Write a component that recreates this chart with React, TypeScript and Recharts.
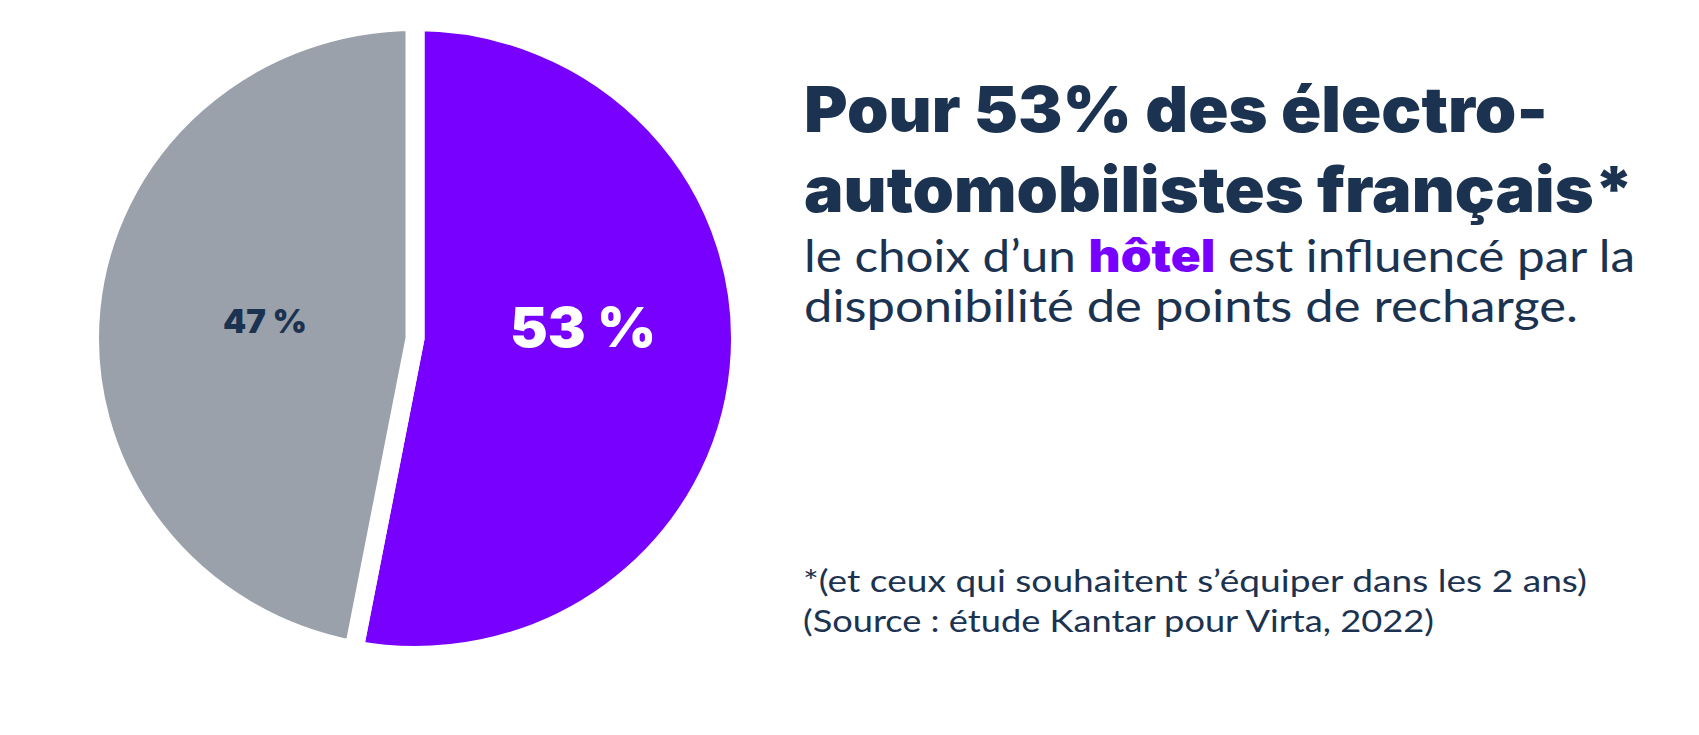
import React from 'react';
import { PieChart, Pie, Cell } from 'recharts';

// ---------- data ----------
const categories = ['Influencés', 'Non influencés'];
const values = [53, 47];
const sliceLabels = ['53 %', '47 %'];

const titleLines = ['Pour 53% des électro-', 'automobilistes français*'];
const subtitleLine1 = ['le choix d’un ', 'hôtel', ' est influencé par la'];
const subtitleLine2 = 'disponibilité de points de recharge.';
const footnotes = [
  '*(et ceux qui souhaitent s’équiper dans les 2 ans)',
  '(Source\u202F: étude Kantar pour Virta, 2022)',
];

// ---------- styles ----------
const NAVY = '#1b3350';
const PURPLE = '#7700ff';
const GRAY = '#9aa1ab';
const colors = [PURPLE, GRAY];
const labelColors = ['#ffffff', NAVY];
const labelStyles = [
  { r: 0.533, dAngle: 9.4, size: 56, len: 146 },
  { r: 0.478, dAngle: -1.4, size: 33, len: 84 },
];
const STROKE = 19;
const SCALE_Y = 0.973;
const HEAVY = "Inter, Lato, 'Open Sans', sans-serif";
const REGULAR = "Lato, 'Open Sans', sans-serif";

const data = categories.map((name, i) => ({ name, value: values[i] }));

const RAD = Math.PI / 180;
const renderLabel = (props: any) => {
  const { cx, cy, midAngle, outerRadius, index } = props;
  const st = labelStyles[index];
  const R = outerRadius - STROKE / 2;
  const a = (midAngle + st.dAngle) * RAD;
  const x = cx + R * st.r * Math.cos(a);
  const y = cy - R * st.r * Math.sin(a);
  return (
    <text
      x={x}
      y={y}
      dy={st.size * 0.36}
      textAnchor="middle"
      fill={labelColors[index]}
      fontFamily={HEAVY}
      fontWeight={900}
      fontSize={st.size}
      textLength={st.len}
      lengthAdjust="spacingAndGlyphs"
    >
      {sliceLabels[index]}
    </text>
  );
};

export default function App() {
  return (
    <div
      style={{
        position: 'absolute',
        left: 0,
        top: 0,
        width: 1699,
        height: 735,
        background: '#ffffff',
        overflow: 'hidden',
      }}
    >
      <div
        style={{
          position: 'absolute',
          left: 0,
          top: 0,
          transform: `scaleY(${SCALE_Y})`,
          transformOrigin: '0 0',
        }}
      >
        <PieChart width={850} height={755} margin={{ top: 0, right: 0, bottom: 0, left: 0 }}>
          <Pie
            data={data}
            dataKey="value"
            nameKey="name"
            cx={415}
            cy={338.5 / SCALE_Y}
            outerRadius={316 + STROKE / 2}
            innerRadius={0}
            startAngle={90}
            endAngle={-270}
            stroke="#ffffff"
            strokeWidth={STROKE}
            label={renderLabel}
            labelLine={false}
            isAnimationActive={false}
          >
            {data.map((d, i) => (
              <Cell key={d.name} fill={colors[i]} stroke="#ffffff" strokeWidth={STROKE} />
            ))}
          </Pie>
        </PieChart>
      </div>

      <svg
        width={1699}
        height={735}
        style={{ position: 'absolute', left: 0, top: 0, pointerEvents: 'none' }}
      >
        <text x={804} y={132} fill={NAVY} fontFamily={HEAVY} fontWeight={900} fontSize={63}
          textLength={744} lengthAdjust="spacingAndGlyphs">
          {titleLines[0]}
        </text>
        <text x={804} y={212} fill={NAVY} fontFamily={HEAVY} fontWeight={900} fontSize={63}
          textLength={830} lengthAdjust="spacingAndGlyphs">
          {titleLines[1]}
        </text>

        <text x={804} y={272} fill={NAVY} fontFamily={REGULAR} fontWeight={400} fontSize={45}
          textLength={831} lengthAdjust="spacingAndGlyphs">
          <tspan>{subtitleLine1[0]}</tspan>
          <tspan fill={PURPLE} fontFamily={HEAVY} fontWeight={900}>{subtitleLine1[1]}</tspan>
          <tspan>{subtitleLine1[2]}</tspan>
        </text>
        <text x={804} y={322} fill={NAVY} fontFamily={REGULAR} fontWeight={400} fontSize={45}
          textLength={774} lengthAdjust="spacingAndGlyphs">
          {subtitleLine2}
        </text>

        <text x={803} y={592} fill={NAVY} fontFamily={REGULAR} fontWeight={400} fontSize={31}
          textLength={784} lengthAdjust="spacingAndGlyphs">
          {footnotes[0]}
        </text>
        <text x={803} y={632} fill={NAVY} fontFamily={REGULAR} fontWeight={400} fontSize={31}
          textLength={631} lengthAdjust="spacingAndGlyphs">
          {footnotes[1]}
        </text>
      </svg>
    </div>
  );
}
